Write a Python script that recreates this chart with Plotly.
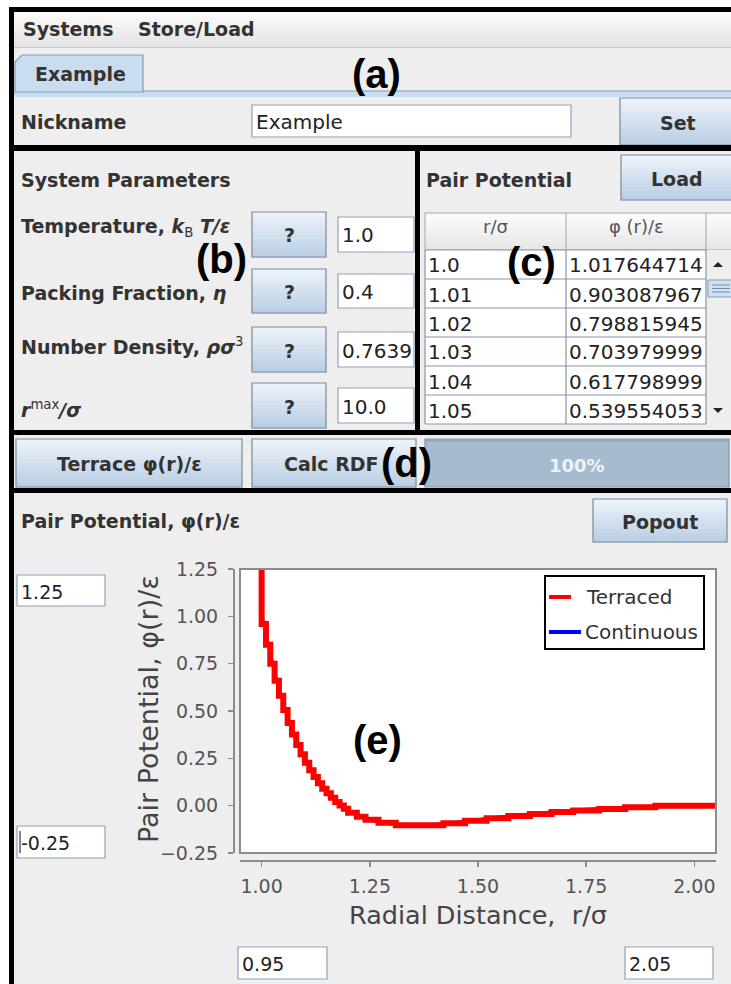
import plotly.graph_objects as go

W, H = 731, 984

# ---------------------------------------------------------------- data
# continuous pair potential phi(r)/eps; the first point is the hard-core wall
r_cont = [1.00, 1.00, 1.01, 1.02, 1.03, 1.04, 1.05, 1.06, 1.07, 1.08, 1.09,
          1.10, 1.11, 1.12, 1.13, 1.14, 1.15, 1.16, 1.17, 1.18, 1.19, 1.20,
          1.22, 1.24, 1.26, 1.28, 1.30, 1.32, 1.34, 1.36, 1.38, 1.40,
          1.45, 1.50, 1.55, 1.60, 1.65, 1.70, 1.75, 1.80, 1.85, 1.90,
          1.95, 2.00, 2.05]
phi_cont = [2.0, 1.017644714, 0.903087967, 0.798815945, 0.703979999,
            0.617798999, 0.539554053, 0.469, 0.405, 0.347, 0.295,
            0.248, 0.206, 0.168, 0.134, 0.104, 0.077, 0.053, 0.030, 0.010,
            -0.008, -0.024,
            -0.050, -0.068, -0.081, -0.090, -0.097, -0.102, -0.105, -0.106,
            -0.105, -0.099,
            -0.088, -0.073, -0.060, -0.048, -0.036, -0.027, -0.019, -0.013,
            -0.008, -0.003, 0.0, 0.0, 0.0]

# terraced (step-wise) potential: step start positions and levels
r_terr = [1.00, 1.00, 1.01, 1.02, 1.03, 1.04, 1.05, 1.06, 1.07, 1.08, 1.09,
          1.10, 1.11, 1.12, 1.13, 1.14, 1.15, 1.16, 1.17, 1.18, 1.19,
          1.20, 1.22, 1.24, 1.27, 1.31,
          1.42, 1.47, 1.52, 1.57, 1.62, 1.67, 1.72, 1.78, 1.84, 1.91, 2.05]
phi_terr = [2.0, 0.96, 0.85, 0.75, 0.66, 0.58, 0.505, 0.437, 0.376, 0.321,
            0.271, 0.227, 0.187, 0.151, 0.119, 0.090, 0.065, 0.042, 0.020,
            0.001, -0.016,
            -0.037, -0.059, -0.075, -0.090, -0.104,
            -0.093, -0.080, -0.067, -0.055, -0.044, -0.034, -0.025, -0.017,
            -0.009, -0.001, -0.001]

# table of the loaded potential
table_r = ["1.0", "1.01", "1.02", "1.03", "1.04", "1.05"]
table_phi = ["1.017644714", "0.903087967", "0.798815945",
             "0.703979999", "0.617798999", "0.539554053"]

# system parameters
param_labels = ["Temperature, <i>k</i><sub><span style='font-weight:normal'>B</span></sub> <i>T/ε</i>",
                "Packing Fraction, <i>η</i>",
                "Number Density, <i>ρσ</i><sup><span style='font-weight:normal'>3</span></sup>",
                "<i>r</i><sup><span style='font-weight:normal'>max</span></sup><i>/σ</i>"]
param_values = ["1.0", "0.4", "0.7639", "10.0"]

x_ticks = [1.00, 1.25, 1.50, 1.75, 2.00]
y_ticks = [-0.25, 0.00, 0.25, 0.50, 0.75, 1.00, 1.25]
x_range = [0.95, 2.05]
y_range = [-0.25, 1.25]

# ---------------------------------------------------------------- helpers
BOLD = "DejaVu Sans"
TXT = "#333333"
shapes, annots = [], []


def fx(x):
    return x / W


def fy(y):
    return 1 - y / H


def rect(x0, y0, x1, y1, fill="rgba(0,0,0,0)", line=None, lw=1):
    shapes.append(dict(type="rect", xref="paper", yref="paper",
                       x0=fx(x0), x1=fx(x1), y0=fy(y1), y1=fy(y0),
                       fillcolor=fill,
                       line=dict(color=line if line else "rgba(0,0,0,0)",
                                 width=lw if line else 0)))


def seg(x0, y0, x1, y1, color, lw=1):
    shapes.append(dict(type="line", xref="paper", yref="paper",
                       x0=fx(x0), x1=fx(x1), y0=fy(y0), y1=fy(y1),
                       line=dict(color=color, width=lw)))


def poly(points, fill, line=None, lw=1):
    d = "M " + " L ".join(f"{fx(x):.5f},{fy(y):.5f}" for x, y in points) + " Z"
    shapes.append(dict(type="path", xref="paper", yref="paper", path=d,
                       fillcolor=fill,
                       line=dict(color=line if line else fill, width=lw if line else 0)))


def text(x, y, s, size=19, color=TXT, bold=False, anchor="left",
         family=BOLD, angle=0):
    annots.append(dict(x=fx(x), y=fy(y), xref="paper", yref="paper",
                       text=f"<b>{s}</b>" if bold else s, showarrow=False,
                       xanchor=anchor, yanchor="middle", textangle=angle,
                       font=dict(family=family, size=size, color=color)))


def lerp(c0, c1, t):
    return "rgb(" + ",".join(str(round(a + (b - a) * t)) for a, b in zip(c0, c1)) + ")"


def button(x0, y0, x1, y1, label, cx=None):
    n = 10
    top, bot = (236, 242, 249), (186, 207, 229)
    for i in range(n):
        ya = y0 + (y1 - y0) * i / n
        yb = y0 + (y1 - y0) * (i + 1) / n
        rect(x0, ya, x1, yb + 0.5, fill=lerp(top, bot, i / (n - 1)))
    rect(x0, y0, x1, y1, line="#7A8A99", lw=1.2)
    if label:
        text(cx if cx else (x0 + x1) / 2, (y0 + y1) / 2 + 1, label,
             bold=True, anchor="center")


def field(x0, y0, x1, y1, value, size=19):
    rect(x0, y0, x1, y1, fill="white", line="#8DA2B8", lw=1.2)
    text(x0 + 2, (y0 + y1) / 2 + 1, value, size=size, color="#222222")


def tag(x, y, s):
    text(x, y, s, size=40, color="black", bold=True, anchor="center",
         family="Liberation Sans")


# ---------------------------------------------------------------- window frame
rect(0, 0, W, 7, fill="white")
rect(0, 0, 9, H, fill="white")

# menu bar
for i in range(7):
    rect(14, 12 + i * 5, W, 17 + i * 5 + 0.5,
         fill=lerp((250, 250, 250), (228, 228, 228), i / 6))
seg(14, 47.5, W, 47.5, "#C9C9C9", 1)
text(21, 29, "Systems", bold=True)
text(136, 29, "Store/Load", bold=True)

# tab strip
rect(14, 91, W, 97, fill="#C9DCF0")
seg(143, 91, W, 91, "#7F9DB9", 1.2)
poly([(15, 92), (15, 62), (22, 55), (143, 55), (143, 92)], fill="#C9DCF0",
     line="#7F9DB9", lw=1.2)
text(33, 74, "Example", bold=True)
tag(376, 74, "(a)")

# nickname row
text(19, 122, "Nickname", bold=True)
field(252, 105, 571, 137, "Example", size=20)
button(620, 98, 740, 145, "Set", cx=678)

# ---------------------------------------------------------------- panel (b)
text(19, 180, "System Parameters", bold=True)
row_y = [(212, 257), (269, 313), (327, 372), (383, 428)]
label_y = [228, 293, 346, 409]
for (ya, yb), ly, lab, val in zip(row_y, label_y, param_labels, param_values):
    text(19, ly, lab, bold=True)
    button(252, ya, 326, yb, "?")
    field(338, ya + 5, 414, yb - 5, val, size=20)
tag(221, 259, "(b)")

# ---------------------------------------------------------------- panel (c)
text(424, 180, "Pair Potential", bold=True)
button(621, 155, 740, 200, "Load", cx=677)

GRID = "#8497AB"
tx0, tx1, tx2, tx3 = 425, 566, 706, 731
hy0, hy1 = 213, 250
row_edges = [250, 279, 308, 337, 366, 395, 424]
for i in range(5):
    rect(tx0, hy0 + i * (hy1 - hy0) / 5, tx3,
         hy0 + (i + 1) * (hy1 - hy0) / 5 + 0.5,
         fill=lerp((250, 250, 250), (232, 232, 232), i / 4))
rect(tx0, hy0, tx3 + 2, hy1, line="#A0A8B0", lw=1)
seg(tx1, hy0, tx1, hy1, "#A0A8B0", 1)
seg(tx2, hy0, tx2, hy1, "#A0A8B0", 1)
text((tx0 + tx1) / 2, 226, "r/σ", size=18, color="#555555", anchor="center")
text((tx1 + tx2) / 2, 226, "φ (r)/ε", size=18, color="#555555", anchor="center")

rect(tx0, row_edges[0], tx2, row_edges[-1], fill="white")
for k, (rv, pv) in enumerate(zip(table_r, table_phi)):
    ya, yb = row_edges[k], row_edges[k + 1]
    text(tx0 + 1, (ya + yb) / 2 + 1, rv, size=20, color="#222222")
    text(tx1 + 1, (ya + yb) / 2 + 1, pv, size=20, color="#222222")
for yy in row_edges:
    seg(tx0, yy, tx2, yy, GRID, 1.2)
for xx in (tx0, tx1, tx2):
    seg(xx, row_edges[0], xx, row_edges[-1], GRID, 1.2)

# scrollbar
rect(tx2 + 1, row_edges[0], tx3 + 2, row_edges[-1], fill="#EEEEEE")
poly([(713, 267), (723, 267), (718, 262)], fill="#222222")
poly([(713, 408), (723, 408), (718, 413)], fill="#222222")
rect(708, 280, tx3 + 2, 297, fill="#D3E1EF", line="#7F9DB9", lw=1)
for yy in (285, 288.5, 292):
    seg(712, yy, 730, yy, "#6F8FB5", 1)
tag(531, 262, "(c)")

# ---------------------------------------------------------------- row (d)
button(16, 439, 242, 487, "Terrace φ(r)/ε")
button(252, 439, 416, 487, "Calc RDF", cx=331)
rect(425, 439, 729, 487, fill="#A7BBCF", line="#7F95AB", lw=1.2)
seg(426, 440.5, 728, 440.5, "#8FA6BE", 2)
text(577, 465, "100%", size=18, color="#EEF3F8", bold=True, anchor="center")
tag(407, 463, "(d)")

# ---------------------------------------------------------------- panel (e)
text(19, 521, "Pair Potential, φ(r)/ε", bold=True)
button(593, 499, 727, 542, "Popout")
field(17, 575, 105, 606, "1.25")
field(17, 826, 105, 858, "-0.25")
seg(20, 831, 20, 853, "#111111", 1)
field(238, 947, 327, 979, "0.95")
field(625, 947, 713, 979, "2.05")

# black separators
rect(9, 7, W, 12, fill="black")
rect(9, 7, 14, H, fill="black")
rect(9, 145, W, 151, fill="black")
rect(415, 148, 420, 433, fill="black")
rect(9, 430, W, 435, fill="black")
rect(9, 488, W, 493, fill="black")

# plot frame
PX0, PX1, PY0, PY1 = 240, 716, 569, 853
rect(PX0, PY0, PX1, PY1, line="#8C8C8C", lw=2)

# legend
rect(545, 576, 704, 649, fill="white", line="black", lw=2)
seg(549, 597, 571, 597, "#FF0000", 4)
seg(549, 632, 581, 632, "#0000FF", 4)
text(584, 597, "Terraced", size=20, color="#333333")
text(583, 632, "Continuous", size=20, color="#333333")

tag(377, 740, "(e)")

# axis titles
text(478, 915, "Radial Distance,  r/σ", size=25.5, color="#444444", anchor="center")
text(148, 709, "Pair Potential, φ(r)/ε", size=27, color="#444444",
     anchor="center", angle=-90)

# ---------------------------------------------------------------- figure
fig = go.Figure()
fig.add_trace(go.Scatter(x=r_cont, y=phi_cont, mode="lines", name="Continuous",
                         line=dict(color="#0000FF", width=3), showlegend=False,
                         cliponaxis=True, hoverinfo="skip"))
fig.add_trace(go.Scatter(x=r_terr, y=phi_terr, mode="lines", name="Terraced",
                         line=dict(color="#FF0000", width=6, shape="hv"),
                         showlegend=False, cliponaxis=True, hoverinfo="skip"))

axis_font = dict(family="DejaVu Sans", size=19, color="#555555")
fig.update_layout(
    width=W, height=H, autosize=False,
    margin=dict(l=0, r=0, t=0, b=0, pad=0, autoexpand=False),
    paper_bgcolor="#EEEEEE", plot_bgcolor="white",
    showlegend=False,
    xaxis=dict(domain=[fx(PX0), fx(PX1)], anchor="free", position=fy(861),
               range=x_range, tickvals=x_ticks, tickformat=".2f",
               showgrid=False, zeroline=False, showline=True,
               linecolor="#8C8C8C", linewidth=2, ticks="outside",
               ticklen=5, tickwidth=1.5, tickcolor="#8C8C8C",
               tickfont=axis_font, ticklabelstandoff=3, automargin=False),
    yaxis=dict(domain=[fy(PY1), fy(PY0)], anchor="free", position=fx(234),
               range=y_range, tickvals=y_ticks, tickformat=".2f",
               showgrid=False, zeroline=False, showline=True,
               linecolor="#8C8C8C", linewidth=2, ticks="outside",
               ticklen=5, tickwidth=1.5, tickcolor="#8C8C8C",
               tickfont=axis_font, ticklabelstandoff=6, automargin=False),
    shapes=shapes, annotations=annots,
)

fig.write_html("out.html", config=dict(displayModeBar=False, staticPlot=True),
               post_script="document.body.style.margin='0';"
                           "document.body.style.overflow='hidden';")
